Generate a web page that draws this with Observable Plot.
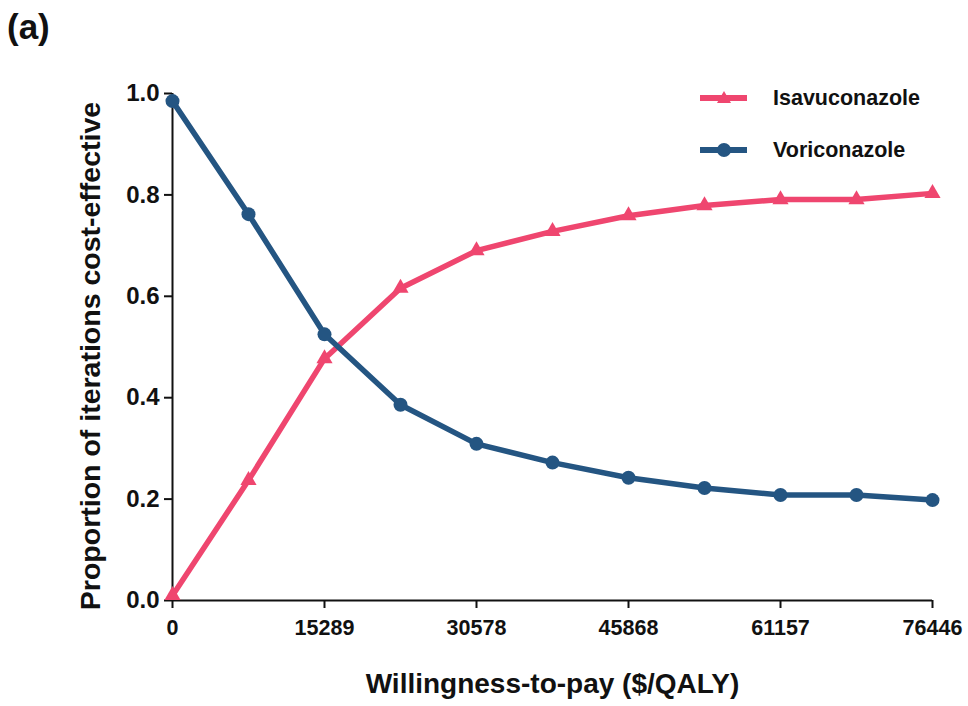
<!DOCTYPE html>
<html>
<head>
<meta charset="utf-8">
<script src="https://cdn.jsdelivr.net/npm/d3@7"></script>
<script src="https://cdn.jsdelivr.net/npm/@observablehq/plot@0.6"></script>
<style>
  body { margin: 0; background: #fff; }
  #wrap { position: relative; width: 968px; height: 706px; font-family: "Liberation Sans", Arial, sans-serif; font-weight: bold; }
  #panel { position: absolute; left: 7px; top: 7px; font-size: 35px; color: #111; }
  #legend { position: absolute; left: 700px; top: 72px; font-size: 21.5px; color: #111; }
  .item { display: flex; align-items: center; height: 52px; }
  .item svg { margin-right: 24px; }
  #chart { position: absolute; left: 0; top: 0; }
</style>
</head>
<body>
<div id="wrap">
  <div id="chart"></div>
  <div id="panel">(a)</div>
  <div id="legend"></div>
</div>
<script>
const wtp = [0, 7644.6, 15289, 22933.8, 30578, 38223, 45868, 53512, 61157, 68801, 76446];
const isavuconazole = [0.01, 0.237, 0.477, 0.616, 0.69, 0.728, 0.759, 0.779, 0.791, 0.791, 0.803];
const voriconazole = [0.985, 0.762, 0.525, 0.386, 0.309, 0.272, 0.242, 0.222, 0.208, 0.208, 0.198];
const xTicks = [0, 15289, 30578, 45868, 61157, 76446];
const yTicks = [0, 0.2, 0.4, 0.6, 0.8, 1.0];
const seriesNames = ["Isavuconazole", "Voriconazole"];
const colors = ["#EF466F", "#245582"];
const symbols = ["triangle", "circle"];

const rows = [];
wtp.forEach((w, i) => {
  rows.push({ wtp: w, p: isavuconazole[i], s: seriesNames[0] });
  rows.push({ wtp: w, p: voriconazole[i], s: seriesNames[1] });
});

const font = '"Liberation Sans", Arial, sans-serif';
const chart = Plot.plot({
  width: 968,
  height: 706,
  marginLeft: 172,
  marginRight: 36,
  marginTop: 93,
  marginBottom: 106,
  style: { fontFamily: font, fontWeight: "bold", color: "#111", background: "transparent" },
  x: { domain: [0, 76446] },
  y: { domain: [0, 1] },
  color: { domain: seriesNames, range: colors },
  symbol: { domain: seriesNames, range: symbols },
  marks: [
    Plot.ruleX([0], { y1: 0, y2: 1, stroke: "#111", strokeWidth: 2 }),
    Plot.ruleY([0], { x1: 0, x2: 76446, stroke: "#111", strokeWidth: 2 }),
    Plot.axisX({ ticks: xTicks, tickFormat: d => String(d), tickSize: 8, tickPadding: 11, fontSize: 21.5, strokeWidth: 2, label: null }),
    Plot.axisY({ ticks: yTicks, tickFormat: d3.format(".1f"), tickSize: 8, tickPadding: 5, fontSize: 24, strokeWidth: 2, label: null }),
    Plot.text(["Willingness-to-pay ($/QALY)"], { frameAnchor: "bottom", dy: 92, fontSize: 28, fontWeight: "bold", fill: "#111", lineAnchor: "bottom" }),
    Plot.text(["Proportion of iterations cost-effective"], { frameAnchor: "left", dx: -82, dy: 9, rotate: -90, textAnchor: "middle", fontSize: 28.5, fontWeight: "bold", fill: "#111" }),
    Plot.line(rows.filter(d => d.s === seriesNames[0]), { x: "wtp", y: "p", stroke: "s", strokeWidth: 5.5 }),
    Plot.dot(rows.filter(d => d.s === seriesNames[0]), { x: "wtp", y: "p", fill: "s", symbol: "s", r: 6 }),
    Plot.line(rows.filter(d => d.s === seriesNames[1]), { x: "wtp", y: "p", stroke: "s", strokeWidth: 5.5 }),
    Plot.dot(rows.filter(d => d.s === seriesNames[1]), { x: "wtp", y: "p", fill: "s", symbol: "s", r: 7 })
  ]
});
document.getElementById("chart").appendChild(chart);

// Legend
const legend = document.getElementById("legend");
seriesNames.forEach((name, i) => {
  const item = document.createElement("div");
  item.className = "item";
  const shape = symbols[i] === "circle"
    ? `<circle cx="24" cy="10" r="7" fill="${colors[i]}"/>`
    : `<path d="M24,3 L31,15 L17,15 Z" fill="${colors[i]}"/>`;
  item.innerHTML = `<svg width="49" height="20"><line x1="0" x2="47" y1="10" y2="10" stroke="${colors[i]}" stroke-width="6"/>${shape}</svg><span>${name}</span>`;
  legend.appendChild(item);
});
</script>
</body>
</html>
